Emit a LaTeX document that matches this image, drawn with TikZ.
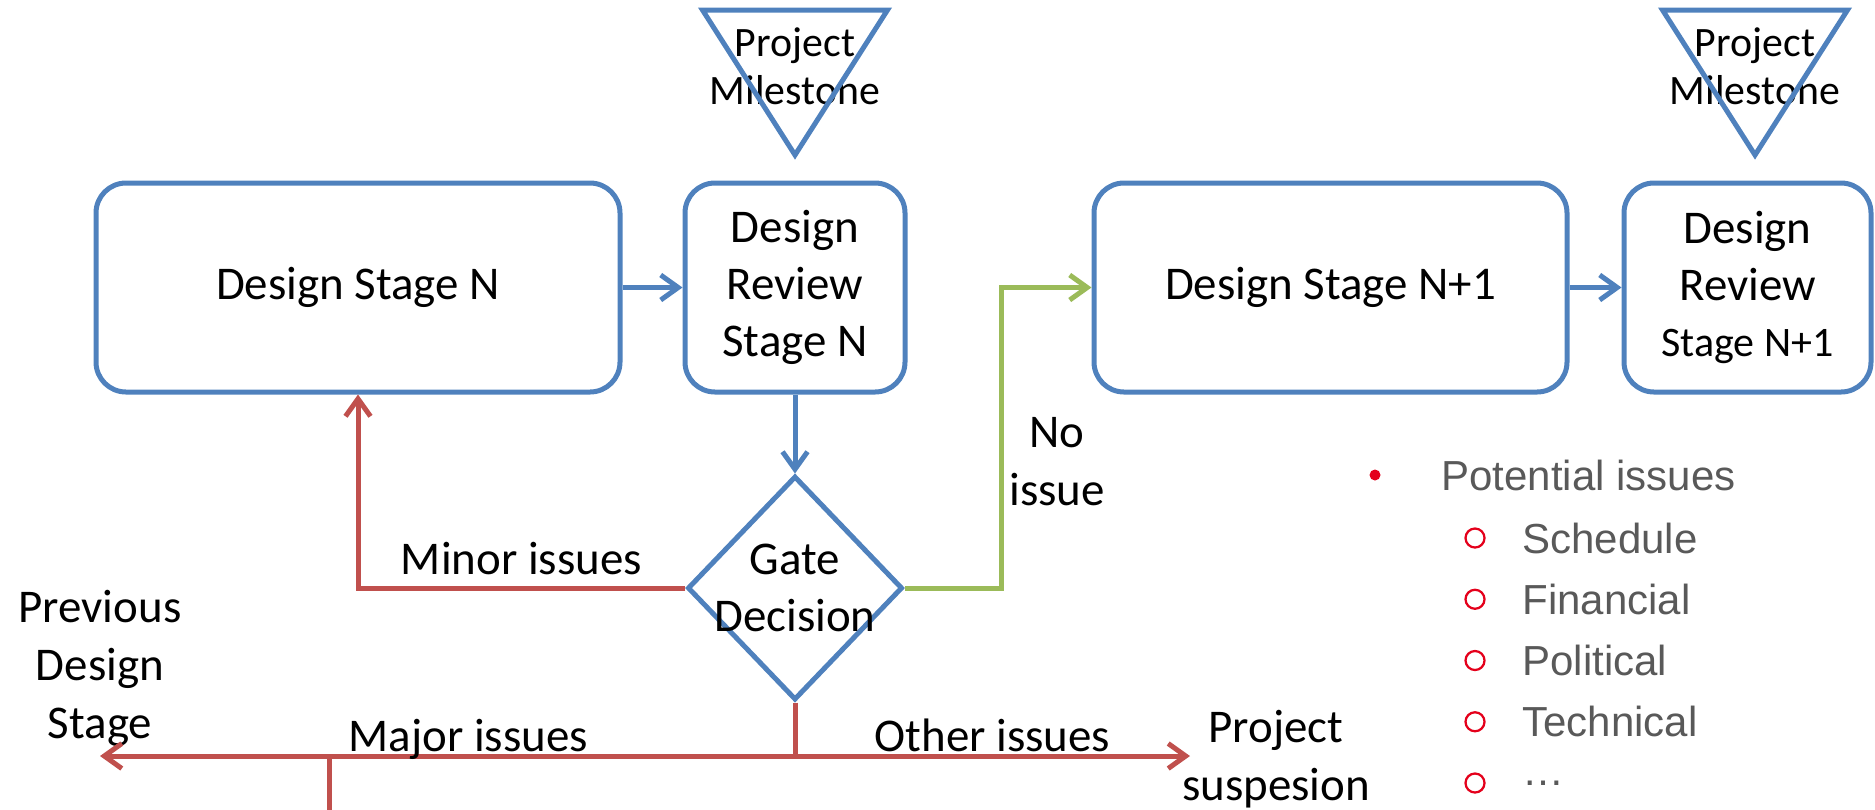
\documentclass[tikz,border=0pt]{standalone}
\usepackage{fontspec}
\setmainfont{Carlito}
\newfontfamily\listfont{Liberation Sans}
\usetikzlibrary{arrows.meta, positioning, shapes.geometric}
\definecolor{stageblue}{RGB}{79,129,189}
\definecolor{issuered}{RGB}{192,80,77}
\definecolor{okgreen}{RGB}{155,187,89}
\definecolor{listgray}{RGB}{89,89,89}
\definecolor{bulletred}{RGB}{228,0,27}

\begin{document}
\begin{tikzpicture}[
  stage/.style={rectangle, rounded corners=0.6cm, draw=stageblue, line width=0.1cm,
                minimum height=4.18cm, align=center, font=\fontsize{26.7}{32.4}\selectfont},
  decision/.style={diamond, draw=stageblue, line width=0.1cm, inner sep=-0.18cm,
                   minimum width=4.3cm, minimum height=4.48cm, align=center,
                   font=\fontsize{26.7}{32.4}\selectfont},
  milestone/.style={draw=stageblue, line width=0.1cm},
  mstext/.style={align=center, font=\fontsize{23.8}{27.3}\selectfont},
  note/.style={align=center, font=\fontsize{26.7}{33}\selectfont},
  issuelabel/.style={note, text depth=0pt},
  flowblue/.style={-{Straight Barb[length=0.35cm, width=0.5cm]}, draw=stageblue, line width=0.1cm},
  flowred/.style={flowblue, draw=issuered},
  flowgreen/.style={flowblue, draw=okgreen},
  listhead/.style={anchor=west, inner sep=0pt, text=listgray,
                   font=\listfont\fontsize{23.9}{28}\selectfont},
  bulletdot/.style={circle, fill=bulletred, inner sep=0pt, minimum size=0.22cm},
  bulletring/.style={circle, draw=bulletred, line width=0.045cm, inner sep=0pt, minimum size=0.38cm}
]
  \useasboundingbox (0,0) rectangle (37.5,-16.18);

  \node[stage, minimum width=10.48cm] (stageN) at (7.16,-5.75) {Design Stage N};
  \node[stage, minimum width=4.4cm, right=1.2cm of stageN] (reviewN) {Design\\Review\\Stage N};
  \node[stage, minimum width=9.46cm, right=3.68cm of reviewN] (stageN1) {Design Stage N+1};
  \node[stage, minimum width=4.94cm, right=1.04cm of stageN1] (reviewN1)
    {Design\\Review\\{\fontsize{23.9}{32.4}\selectfont Stage N+1}};
  \node[decision, below=1.58cm of reviewN] (gate) {Gate\\Decision};

  \node[mstext] (msN) at ([yshift=2.29cm]reviewN.north) {Project\\Milestone};
  \node[mstext] (msN1) at ([xshift=0.15cm, yshift=2.29cm]reviewN1.north) {Project\\Milestone};
  \draw[milestone] ([shift={(-1.85,1.12)}]msN.center) -- ++(3.7,0) -- ++(-1.85,-2.9) -- cycle;
  \draw[milestone] ([shift={(-1.85,1.12)}]msN1.center) -- ++(3.7,0) -- ++(-1.85,-2.9) -- cycle;

  \draw[flowblue] (stageN) -- (reviewN);
  \draw[flowblue] (stageN1) -- (reviewN1);
  \draw[flowblue] (reviewN) -- (gate);
  \draw[flowgreen] (gate.east) -- ++(1.92,0) |- node[pos=0.21, right=0cm, note] {No\\issue} (stageN1);
  \draw[flowred] (gate.west) -| node[pos=0.25, above=0.1cm, issuelabel] {Minor issues} (stageN);

  \node[note] (prev) at (2.0,-13.36) {Previous\\Design\\Stage};
  \node[note] (susp) at (25.52,-15.18) {Project\\suspesion};
  \coordinate (split) at ([yshift=-1.07cm]gate.south);
  \coordinate (prevend) at (split -| prev);
  \coordinate (suspend) at ([xshift=7.9cm]split);
  \coordinate (stubtop) at ([xshift=-9.32cm]split);
  \draw[flowred, -] (gate.south) -- (split);
  \draw[flowred] (split) -- node[pos=0.47, above=-0.07cm, issuelabel] {Major issues} (prevend);
  \draw[flowred] (split) -- node[midway, above=-0.07cm, issuelabel] {Other issues} (suspend);
  \draw[flowred, -] (stubtop) -- ++(0,-1.1);

  \node[bulletdot] (dotP) at (27.5,-9.5) {};
  \node[listhead] (potential) at (28.82,-9.5) {Potential issues};
  \foreach \issue [count=\i] in {Schedule, Financial, Political, Technical, …} {
    \node[bulletring] (ring\i) at (29.5,{-10.76-1.225*(\i-1)}) {};
    \node[listhead] (item\i) at (30.44,{-10.76-1.225*(\i-1)}) {\issue};
  }
\end{tikzpicture}
\end{document}
